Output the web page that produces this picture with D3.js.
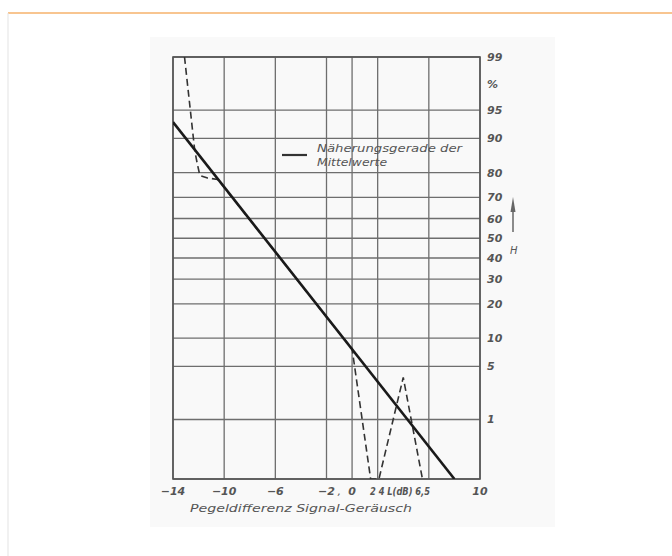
<!DOCTYPE html>
<html>
<head>
<meta charset="utf-8">
<script src="https://cdn.jsdelivr.net/npm/d3@7"></script>
<style>
  body { margin: 0; background: #fff; }
  text { font-family: "DejaVu Sans", sans-serif; font-style: italic; fill: #555; }
</style>
</head>
<body>
<div id="chart"></div>
<script>
// x: level difference signal - noise, y: probability H in %
var xGrid = [-14, -10, -6, -2, 0, 2, 6, 10];
var xLabels = ["\u221214", "\u221210", "\u22126", "\u22122", "0", "", "", "10"];
var pGrid = [99, 95, 90, 80, 70, 60, 50, 40, 30, 20, 10, 5, 1, 0.1];
var pLabels = ["99", "95", "90", "80", "70", "60", "50", "40", "30", "20", "10", "5", "1", ""];

// straight approximation line of the mean values
var fitX = [-14, 8];
var fitP = [93.2, 0.1];

// measured curve (dashed)
var measX = [-13.1, -12.3, -12.1, -11.9, -11.3, -10.5, -6, -2, 0, 1.45, 2.1, 4.0, 5.5];
var measP = [99, 87, 83, 79, 78, 77.5, 43, 15.6, 7.8, 0.1, 0.1, 3.7, 0.1];

var W = 672, H = 556;

// inverse normal cdf (Acklam)
function probit(p) {
  var a = [-39.69683028665376, 220.9460984245205, -275.9285104469687, 138.357751867269, -30.66479806614716, 2.506628277459239];
  var b = [-54.47609879822406, 161.5858368580409, -155.6989798598866, 66.80131188771972, -13.28068155288572];
  var c = [-0.007784894002430293, -0.3223964580411365, -2.400758277161838, -2.549732539343734, 4.374664141464968, 2.938163982698783];
  var d = [0.007784695709041462, 0.3224671290700398, 2.445134137142996, 3.754408661907416];
  var q, r;
  if (p < 0.02425) {
    q = Math.sqrt(-2 * Math.log(p));
    return (((((c[0]*q+c[1])*q+c[2])*q+c[3])*q+c[4])*q+c[5]) / ((((d[0]*q+d[1])*q+d[2])*q+d[3])*q+1);
  } else if (p > 1 - 0.02425) {
    q = Math.sqrt(-2 * Math.log(1 - p));
    return -(((((c[0]*q+c[1])*q+c[2])*q+c[3])*q+c[4])*q+c[5]) / ((((d[0]*q+d[1])*q+d[2])*q+d[3])*q+1);
  }
  q = p - 0.5; r = q * q;
  return (((((a[0]*r+a[1])*r+a[2])*r+a[3])*r+a[4])*r+a[5])*q / (((((b[0]*r+b[1])*r+b[2])*r+b[3])*r+b[4])*r+1);
}

var svg = d3.select("#chart").append("svg")
  .attr("width", W).attr("height", H);

// card border
svg.append("line").attr("x1", 8).attr("x2", W).attr("y1", 13).attr("y2", 13)
  .attr("stroke", "#f6b26b").attr("stroke-width", 1.5);
svg.append("line").attr("x1", 8).attr("x2", 8).attr("y1", 13).attr("y2", H)
  .attr("stroke", "#e3e3e3").attr("stroke-width", 1);

// scanned paper
svg.append("rect").attr("x", 150).attr("y", 37).attr("width", 405).attr("height", 490)
  .attr("fill", "#f9f9f9");

var x = d3.scaleLinear().domain([-14, 10]).range([173, 480]);
var zy = d3.scaleLinear().domain([probit(0.001), probit(0.99)]).range([479, 57]);
function y(p) { return zy(probit(p / 100)); }

var g = svg.append("g");

// grid
g.selectAll(".vg").data(xGrid).enter().append("line")
  .attr("x1", d => x(d)).attr("x2", d => x(d))
  .attr("y1", y(99)).attr("y2", y(0.1))
  .attr("stroke", "#6e6e6e").attr("stroke-width", 1.3);
g.selectAll(".hg").data(pGrid).enter().append("line")
  .attr("x1", x(-14)).attr("x2", x(10))
  .attr("y1", d => y(d)).attr("y2", d => y(d))
  .attr("stroke", "#6e6e6e").attr("stroke-width", 1.3);
g.append("rect").attr("x", x(-14)).attr("y", y(99))
  .attr("width", x(10) - x(-14)).attr("height", y(0.1) - y(99))
  .attr("fill", "none").attr("stroke", "#555").attr("stroke-width", 1.6);

// right axis labels
g.selectAll(".pl").data(pGrid).enter().append("text")
  .attr("x", x(10) + 7).attr("y", d => y(d) + 4)
  .attr("font-size", 11).attr("font-weight", "bold")
  .text((d, i) => pLabels[i]);
g.append("text").attr("x", x(10) + 7).attr("y", (y(99) + y(95)) / 2 + 4)
  .attr("font-size", 11).attr("font-weight", "bold").text("%");

// H with arrow
g.append("line").attr("x1", 513).attr("x2", 513).attr("y1", 203).attr("y2", 232)
  .attr("stroke", "#666").attr("stroke-width", 1.5);
g.append("path").attr("d", "M510.5,212 L513,197 L515.5,212 Z").attr("fill", "#666");
g.append("text").attr("x", 510).attr("y", 254).attr("font-size", 10).text("H");

// bottom axis labels
g.selectAll(".xl").data(xGrid).enter().append("text")
  .attr("x", d => x(d)).attr("y", y(0.1) + 16)
  .attr("text-anchor", "middle").attr("font-size", 11).attr("font-weight", "bold")
  .text((d, i) => xLabels[i]);
g.append("text").attr("x", x(-1)).attr("y", y(0.1) + 16)
  .attr("text-anchor", "middle").attr("font-size", 11).text(",");
g.append("text").attr("x", 370).attr("y", y(0.1) + 16)
  .attr("textLength", 60).attr("lengthAdjust", "spacingAndGlyphs")
  .attr("font-size", 11).attr("font-weight", "bold").text("2 4 L(dB) 6,5");

g.append("text").attr("x", 190).attr("y", 512).attr("font-size", 11)
  .attr("textLength", 222).attr("lengthAdjust", "spacingAndGlyphs")
  .text("Pegeldifferenz  Signal-Geräusch");

// clip to plot
svg.append("clipPath").attr("id", "plot").append("rect")
  .attr("x", x(-14)).attr("y", y(99))
  .attr("width", x(10) - x(-14)).attr("height", y(0.1) - y(99));

var line = d3.line().x(d => x(d[0])).y(d => y(d[1]));

g.append("path").datum(d3.zip(measX, measP))
  .attr("clip-path", "url(#plot)")
  .attr("d", line).attr("fill", "none")
  .attr("stroke", "#333").attr("stroke-width", 1.6)
  .attr("stroke-dasharray", "7,4");

g.append("path").datum(d3.zip(fitX, fitP))
  .attr("clip-path", "url(#plot)")
  .attr("d", line).attr("fill", "none")
  .attr("stroke", "#1a1a1a").attr("stroke-width", 2.6);

// legend
g.append("line").attr("x1", 282).attr("x2", 307).attr("y1", 155).attr("y2", 155)
  .attr("stroke", "#333").attr("stroke-width", 2.2);
g.append("text").attr("x", 317).attr("y", 152).attr("font-size", 10.5)
  .attr("textLength", 145).attr("lengthAdjust", "spacingAndGlyphs")
  .text("Näherungsgerade  der");
g.append("text").attr("x", 317).attr("y", 166).attr("font-size", 10.5)
  .attr("textLength", 70).attr("lengthAdjust", "spacingAndGlyphs")
  .text("Mittelwerte");
</script>
</body>
</html>
